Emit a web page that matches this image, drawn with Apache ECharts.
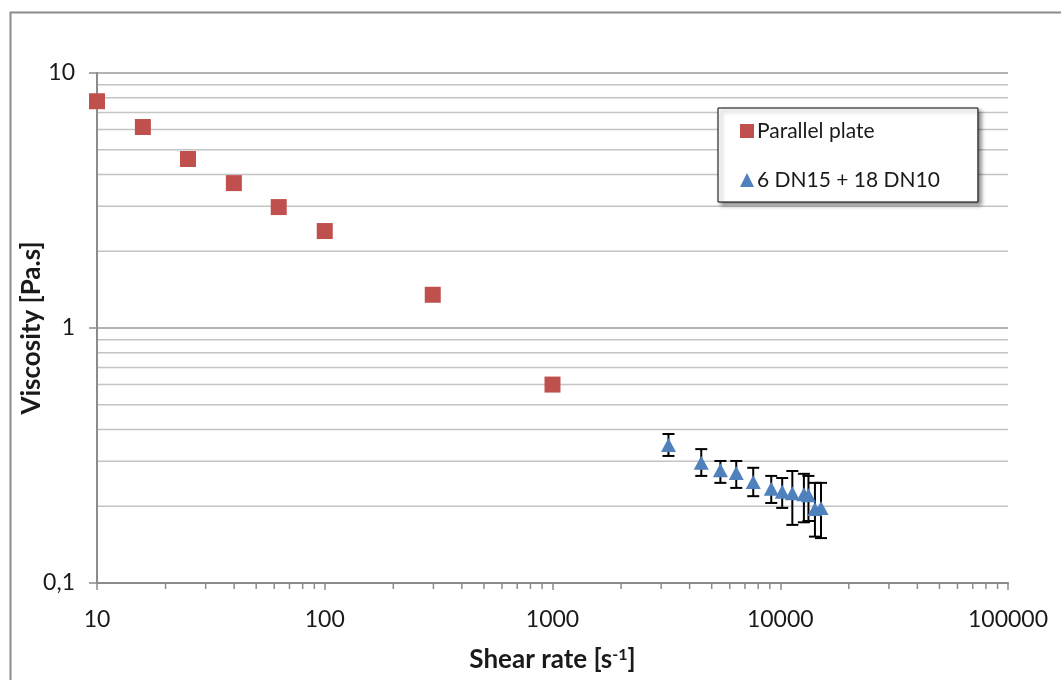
<!DOCTYPE html>
<html>
<head>
<meta charset="utf-8">
<script src="https://cdn.jsdelivr.net/npm/echarts@6/dist/echarts.min.js"></script>
<style>
html,body{margin:0;padding:0;background:#fff;overflow:hidden;}
#chart{width:1061px;height:680px;}
</style>
</head>
<body>
<div id="chart"></div>
<script>
// ---- data ----
var seriesNames = ['Parallel plate', '6 DN15 + 18 DN10'];
var ppX = [10, 15.9, 25.1, 39.9, 62.8, 100, 298, 1000];
var ppY = [7.75, 6.14, 4.6, 3.7, 2.98, 2.4, 1.35, 0.6];
var dnX = [3230, 4500, 5460, 6410, 7610, 9130, 10200, 11300, 12700, 13300, 14200, 15100];
var dnY = [0.348, 0.296, 0.277, 0.270, 0.249, 0.234, 0.228, 0.225, 0.223, 0.221, 0.195, 0.197];
var dnLow = [0.315, 0.263, 0.247, 0.236, 0.219, 0.206, 0.197, 0.169, 0.173, 0.175, 0.152, 0.150];
var dnHigh = [0.384, 0.335, 0.301, 0.301, 0.283, 0.263, 0.258, 0.275, 0.268, 0.263, 0.247, 0.247];
var xTickLabels = ['10', '100', '1000', '10000', '100000'];
var yTickLabels = {'0.1': '0,1', '1': '1', '10': '10'};
var xMin = 10, xMax = 100000, yMin = 0.1, yMax = 10;

// minor grid / tick positions (2..9 within each decade)
var yMinor = [];
[0.1, 1].forEach(function (d) { for (var k = 2; k <= 9; k++) yMinor.push(+(k * d).toPrecision(3)); });
var xMinor = [];
[10, 100, 1000, 10000].forEach(function (d) { for (var k = 2; k <= 9; k++) xMinor.push(k * d); });

var FONT = 'Lato, "Open Sans", sans-serif';
var chart = echarts.init(document.getElementById('chart'), null, {renderer: 'canvas', width: 1061, height: 680});

var option = {
  backgroundColor: '#fff',
  animation: false,
  textStyle: {fontFamily: FONT},
  graphic: [{
    type: 'rect', left: 8, top: 10, z: -10,
    shape: {x: 0, y: 0, width: 1100, height: 720},
    style: {fill: 'none', stroke: '#8c8c8c', lineWidth: 2}
  }],
  grid: {left: 97, width: 911, top: 73, height: 510, containLabel: false},
  legend: {
    orient: 'vertical', left: 718, top: 108,
    padding: [10, 38, 9, 22], itemGap: 23,
    itemWidth: 14, itemHeight: 14,
    backgroundColor: '#fff', borderColor: '#000', borderWidth: 1, borderRadius: 0,
    shadowColor: 'rgba(0,0,0,0.45)', shadowBlur: 4, shadowOffsetX: 3, shadowOffsetY: 3,
    textStyle: {fontSize: 21, color: '#1a1a1a', fontFamily: FONT, lineHeight: 26, padding: [0, 0, 0, -2]},
    data: [{name: seriesNames[0], icon: 'rect'}, {name: seriesNames[1], icon: 'triangle'}]
  },
  xAxis: {
    type: 'log', logBase: 10, min: xMin, max: xMax,
    nameMoveOverlap: false,
    axisLine: {show: true, lineStyle: {color: '#8c8c8c', width: 2}},
    axisTick: {show: true, length: 7, lineStyle: {color: '#8c8c8c', width: 1.5}},
    splitLine: {show: false},
    axisLabel: {fontSize: 23, color: '#1a1a1a', margin: 25, fontFamily: FONT,
      formatter: function (v) { var i = Math.round(Math.log10(v)) - 1; return xTickLabels[i] || ''; }},
    name: '{a|Shear rate [s}{s|-1}{a|]}', nameLocation: 'middle', nameGap: 64,
    nameTextStyle: {rich: {
      a: {fontSize: 26, fontWeight: 'bold', color: '#1a1a1a', fontFamily: FONT},
      s: {fontSize: 16, fontWeight: 'bold', color: '#1a1a1a', fontFamily: FONT, verticalAlign: 'top', padding: [0, 0, 10, 0]}
    }}
  },
  yAxis: {
    type: 'log', logBase: 10, min: yMin, max: yMax,
    nameMoveOverlap: false,
    axisLine: {show: true, lineStyle: {color: '#8c8c8c', width: 2}},
    axisTick: {show: true, length: 8, lineStyle: {color: '#8c8c8c', width: 1.5}},
    splitLine: {show: true, lineStyle: {color: '#9a9a9a', width: 1.5}},
    axisLabel: {fontSize: 23, color: '#1a1a1a', margin: 22, fontFamily: FONT,
      formatter: function (v) { var k = String(+v.toPrecision(3)); return yTickLabels[k] || ''; }},
    name: 'Viscosity [Pa.s]', nameLocation: 'middle', nameGap: 52, nameRotate: 90,
    nameTextStyle: {fontSize: 26, fontWeight: 'bold', color: '#1a1a1a', fontFamily: FONT}
  },
  series: [
    {
      type: 'custom', silent: true, z: 0,
      data: yMinor.map(function (v) { return [xMin, v]; }),
      encode: {x: 0, y: 1},
      renderItem: function (params, api) {
        var v = api.value(1);
        var a = api.coord([xMin, v]), b = api.coord([xMax, v]);
        return {type: 'line', shape: {x1: a[0], y1: a[1], x2: b[0], y2: b[1]},
          style: {stroke: '#c4c4c4', lineWidth: 1.5}};
      }
    },
    {
      type: 'custom', silent: true, z: 0, clip: false,
      data: xMinor.map(function (v) { return [v, yMin]; }),
      encode: {x: 0, y: 1},
      renderItem: function (params, api) {
        var a = api.coord([api.value(0), yMin]);
        return {type: 'line', shape: {x1: a[0], y1: a[1], x2: a[0], y2: a[1] + 6},
          style: {stroke: '#8c8c8c', lineWidth: 1.5}};
      }
    },
    {
      name: seriesNames[0], type: 'scatter', z: 5,
      symbol: 'rect', symbolSize: 16,
      itemStyle: {color: '#C0504D', opacity: 1},
      data: ppX.map(function (x, i) { return [x, ppY[i]]; })
    },
    {
      type: 'custom', silent: true, z: 3,
      data: dnX.map(function (x, i) { return [x, dnLow[i], dnHigh[i]]; }),
      encode: {x: 0, y: [1, 2]},
      renderItem: function (params, api) {
        var x = api.value(0);
        var lo = api.coord([x, api.value(1)]), hi = api.coord([x, api.value(2)]);
        var hw = 6, st = {stroke: '#000', lineWidth: 2};
        return {type: 'group', children: [
          {type: 'line', shape: {x1: lo[0], y1: lo[1], x2: hi[0], y2: hi[1]}, style: st},
          {type: 'line', shape: {x1: lo[0] - hw, y1: lo[1], x2: lo[0] + hw, y2: lo[1]}, style: st},
          {type: 'line', shape: {x1: hi[0] - hw, y1: hi[1], x2: hi[0] + hw, y2: hi[1]}, style: st}
        ]};
      }
    },
    {
      name: seriesNames[1], type: 'scatter', z: 5,
      symbol: 'triangle', symbolSize: [15, 14],
      itemStyle: {color: '#4F81BD', opacity: 1},
      data: dnX.map(function (x, i) { return [x, dnY[i]]; })
    }
  ]
};
chart.setOption(option);
</script>
</body>
</html>
